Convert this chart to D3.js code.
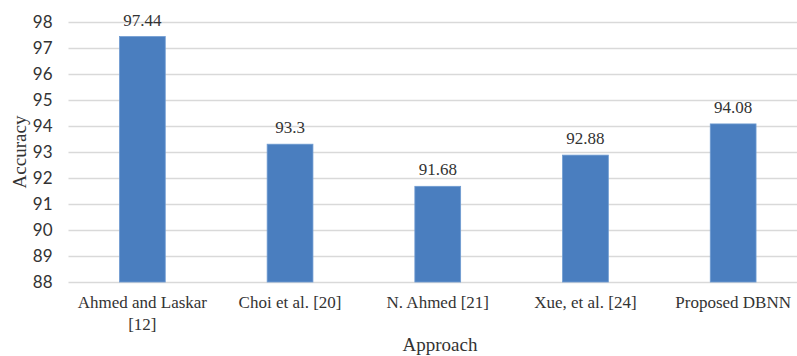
<!DOCTYPE html>
<html>
<head>
<meta charset="utf-8">
<script src="https://cdn.jsdelivr.net/npm/d3@7"></script>
<style>
  html, body { margin: 0; padding: 0; background: #fff; }
  svg { display: block; }
</style>
</head>
<body>
<svg id="chart" width="797" height="356"></svg>
<script>
// Accuracy of each approach
const categories = [["Ahmed and Laskar", "[12]"], ["Choi et al. [20]"], ["N. Ahmed [21]"], ["Xue, et al. [24]"], ["Proposed DBNN"]];
const accuracy = [97.44, 93.3, 91.68, 92.88, 94.08];
const yTicks = [88, 89, 90, 91, 92, 93, 94, 95, 96, 97, 98];

(function () {
  const serif = "'Liberation Serif', 'Times New Roman', serif";
  const sans = "Lato, 'Liberation Sans', sans-serif";
  const ink = "#333";
  const svg = d3.select("#chart");
  const plotLeft = 68.5, plotRight = 807, plotTop = 22, plotBottom = 282;

  const x = d3.scaleBand()
    .domain(d3.range(categories.length))
    .range([plotLeft, plotRight])
    .paddingInner(0.69)
    .paddingOuter(0.345);

  const y = d3.scaleLinear().domain([88, 98]).range([plotBottom, plotTop]);

  // horizontal gridlines
  svg.append("g")
    .selectAll("line")
    .data(yTicks)
    .join("line")
    .attr("x1", plotLeft).attr("x2", plotRight)
    .attr("y1", d => Math.round(y(d)) + 0.5).attr("y2", d => Math.round(y(d)) + 0.5)
    .attr("stroke", "#d9d9d9").attr("stroke-width", 1.5);

  // y axis labels
  const yAxis = svg.append("g")
    .attr("transform", `translate(${plotLeft},0)`)
    .call(d3.axisLeft(y).tickValues(yTicks).tickSize(0).tickPadding(16));
  yAxis.select(".domain").remove();
  yAxis.selectAll("text")
    .attr("font-family", sans)
    .attr("font-size", 17)
    .attr("fill", ink);

  // bars
  svg.append("g")
    .selectAll("rect")
    .data(accuracy)
    .join("rect")
    .attr("x", (d, i) => x(i))
    .attr("width", x.bandwidth())
    .attr("y", d => y(d))
    .attr("height", d => y(88) - y(d))
    .attr("fill", "#4a7ebf")
    .attr("stroke", "#6f9bd1")
    .attr("stroke-width", 0.8);

  // value labels
  svg.append("g")
    .selectAll("text")
    .data(accuracy)
    .join("text")
    .attr("x", (d, i) => x(i) + x.bandwidth() / 2)
    .attr("y", d => y(d) - 11)
    .attr("text-anchor", "middle")
    .attr("font-family", serif)
    .attr("font-size", 17)
    .attr("fill", ink)
    .text(d => d);

  // category labels
  const cat = svg.append("g")
    .selectAll("text")
    .data(categories)
    .join("text")
    .attr("x", (d, i) => x(i) + x.bandwidth() / 2)
    .attr("y", 308)
    .attr("text-anchor", "middle")
    .attr("font-family", serif)
    .attr("font-size", 17)
    .attr("fill", ink);
  cat.selectAll("tspan")
    .data(d => d)
    .join("tspan")
    .attr("x", function () { return d3.select(this.parentNode).attr("x"); })
    .attr("dy", (d, i) => i === 0 ? 0 : 22)
    .text(d => d);

  // axis titles
  svg.append("text")
    .attr("transform", "translate(26,152) rotate(-90)")
    .attr("text-anchor", "middle")
    .attr("font-family", serif)
    .attr("font-size", 19)
    .attr("fill", ink)
    .text("Accuracy");

  svg.append("text")
    .attr("x", 440)
    .attr("y", 351)
    .attr("text-anchor", "middle")
    .attr("font-family", serif)
    .attr("font-size", 19)
    .attr("fill", ink)
    .text("Approach");
})();
</script>
</body>
</html>
